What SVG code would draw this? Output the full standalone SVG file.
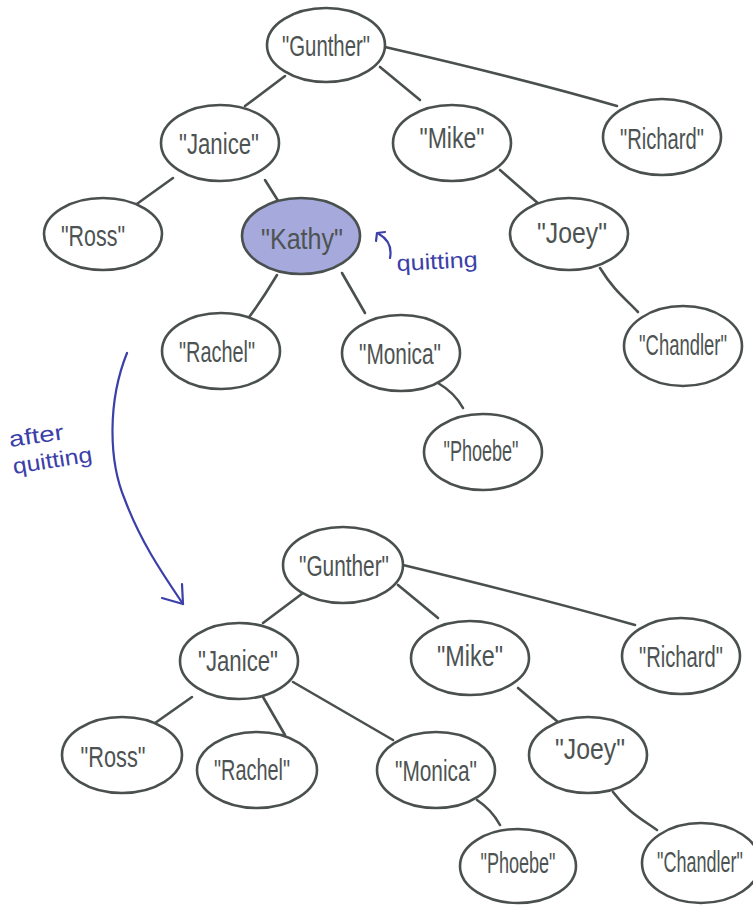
<svg xmlns="http://www.w3.org/2000/svg" width="753" height="905" viewBox="0 0 753 905">
<style>
.n{fill:#ffffff;stroke:#4a504f;stroke-width:2.6}
.k{fill:#a6a9db}
.t{font-family:"Liberation Sans","DejaVu Sans",sans-serif;font-size:30px;fill:#4d5352;text-anchor:middle}
.c{fill:none;stroke:#4a504f;stroke-width:2.6;stroke-linecap:round}
.a{fill:none;stroke:#3b40a8;stroke-width:2.2;stroke-linecap:round;stroke-linejoin:round}
.at{font-family:"Liberation Sans","DejaVu Sans",sans-serif;font-size:22px;fill:#3b40a8}
</style>
<rect width="753" height="905" fill="#ffffff"/>
<g id="connectors">
<path class="c" d="M285,76 L245,106"/>
<path class="c" d="M380,67 L420,100"/>
<path class="c" d="M385,47 Q520,78 617,106"/>
<path class="c" d="M173,178 L127,211"/>
<path class="c" d="M265,180 L282,207"/>
<path class="c" d="M500,170 L540,205"/>
<path class="c" d="M277,275 Q262,300 247,320"/>
<path class="c" d="M342,273 L365,313"/>
<path class="c" d="M600,268 C615,292 625,298 638,312"/>
<path class="c" d="M438,383 Q455,393 463,408"/>
<path class="c" d="M303,593 L263,623"/>
<path class="c" d="M398,585 L438,618"/>
<path class="c" d="M403,565 Q540,598 635,625"/>
<path class="c" d="M192,697 L148,728"/>
<path class="c" d="M263,697 L285,735"/>
<path class="c" d="M293,682 L393,740"/>
<path class="c" d="M518,688 L558,722"/>
<path class="c" d="M613,792 C628,812 640,818 657,830"/>
<path class="c" d="M477,800 Q492,810 500,825"/>
</g>
<g id="annotations">
<path class="a" d="M127,353 C108,400 108,460 125,500 C140,540 160,570 183,604"/>
<path class="a" d="M162,598 L183,604 L182,584"/>
<text class="at" x="10" y="447" transform="rotate(-8 10 447)" textLength="55" lengthAdjust="spacingAndGlyphs">after</text>
<text class="at" x="14" y="474" transform="rotate(-9 14 474)" textLength="80" lengthAdjust="spacingAndGlyphs">quitting</text>
<path class="a" d="M390,258 Q393,242 379,234"/>
<path class="a" d="M376,241 L377,233 L385,232"/>
<text class="at" x="397" y="271" transform="rotate(-3 397 271)" textLength="81" lengthAdjust="spacingAndGlyphs">quitting</text>
</g>
<g id="top-gunther"><ellipse class="n" cx="326" cy="45" rx="59" ry="37"/><text class="t" x="326" y="56" textLength="88" lengthAdjust="spacingAndGlyphs">"Gunther"</text></g>
<g id="top-janice"><ellipse class="n" cx="220" cy="143" rx="59" ry="38"/><text class="t" x="219" y="154" textLength="80" lengthAdjust="spacingAndGlyphs">"Janice"</text></g>
<g id="top-mike"><ellipse class="n" cx="452" cy="143" rx="59" ry="38"/><text class="t" x="452" y="148" textLength="65" lengthAdjust="spacingAndGlyphs">"Mike"</text></g>
<g id="top-richard"><ellipse class="n" cx="662" cy="137" rx="59" ry="38"/><text class="t" transform="translate(662 149) scale(0.674 1)">"Richard"</text></g>
<g id="top-ross"><ellipse class="n" cx="103" cy="234" rx="59" ry="36"/><text class="t" x="93" y="246" textLength="64" lengthAdjust="spacingAndGlyphs">"Ross"</text></g>
<g id="top-kathy"><ellipse class="n k" cx="301" cy="236" rx="59" ry="38"/><text class="t" x="302" y="249" textLength="82" lengthAdjust="spacingAndGlyphs">"Kathy"</text></g>
<g id="top-joey"><ellipse class="n" cx="569" cy="234" rx="59" ry="36"/><text class="t" x="572" y="243" textLength="70" lengthAdjust="spacingAndGlyphs">"Joey"</text></g>
<g id="top-rachel"><ellipse class="n" cx="221" cy="351" rx="59" ry="38"/><text class="t" x="217" y="362" textLength="76" lengthAdjust="spacingAndGlyphs">"Rachel"</text></g>
<g id="top-monica"><ellipse class="n" cx="401" cy="353" rx="59" ry="38"/><text class="t" x="400" y="364" textLength="82" lengthAdjust="spacingAndGlyphs">"Monica"</text></g>
<g id="top-chandler"><ellipse class="n" cx="683" cy="346" rx="59" ry="40"/><text class="t" transform="translate(683 355) scale(0.615 1)">"Chandler"</text></g>
<g id="top-phoebe"><ellipse class="n" cx="483" cy="452" rx="59" ry="38"/><text class="t" x="481" y="461" textLength="75" lengthAdjust="spacingAndGlyphs">"Phoebe"</text></g>
<g id="bot-gunther"><ellipse class="n" cx="343" cy="565" rx="60" ry="38"/><text class="t" x="344" y="576" textLength="90" lengthAdjust="spacingAndGlyphs">"Gunther"</text></g>
<g id="bot-janice"><ellipse class="n" cx="239" cy="661" rx="59" ry="38"/><text class="t" x="238" y="671" textLength="80" lengthAdjust="spacingAndGlyphs">"Janice"</text></g>
<g id="bot-mike"><ellipse class="n" cx="470" cy="658" rx="59" ry="37"/><text class="t" x="470" y="666" textLength="66" lengthAdjust="spacingAndGlyphs">"Mike"</text></g>
<g id="bot-richard"><ellipse class="n" cx="681" cy="656" rx="59" ry="38"/><text class="t" transform="translate(681 667) scale(0.674 1)">"Richard"</text></g>
<g id="bot-ross"><ellipse class="n" cx="122" cy="755" rx="60" ry="38"/><text class="t" x="113" y="767" textLength="65" lengthAdjust="spacingAndGlyphs">"Ross"</text></g>
<g id="bot-rachel"><ellipse class="n" cx="257" cy="770" rx="60" ry="38"/><text class="t" x="252" y="780" textLength="76" lengthAdjust="spacingAndGlyphs">"Rachel"</text></g>
<g id="bot-monica"><ellipse class="n" cx="436" cy="770" rx="59" ry="38"/><text class="t" x="436" y="781" textLength="82" lengthAdjust="spacingAndGlyphs">"Monica"</text></g>
<g id="bot-joey"><ellipse class="n" cx="588" cy="755" rx="59" ry="38"/><text class="t" x="590" y="759" textLength="70" lengthAdjust="spacingAndGlyphs">"Joey"</text></g>
<g id="bot-phoebe"><ellipse class="n" cx="518" cy="866" rx="58" ry="37"/><text class="t" x="518" y="873" textLength="75" lengthAdjust="spacingAndGlyphs">"Phoebe"</text></g>
<g id="bot-chandler"><ellipse class="n" cx="701" cy="863" rx="59" ry="40"/><text class="t" transform="translate(700 872) scale(0.6 1)">"Chandler"</text></g>
</svg>
